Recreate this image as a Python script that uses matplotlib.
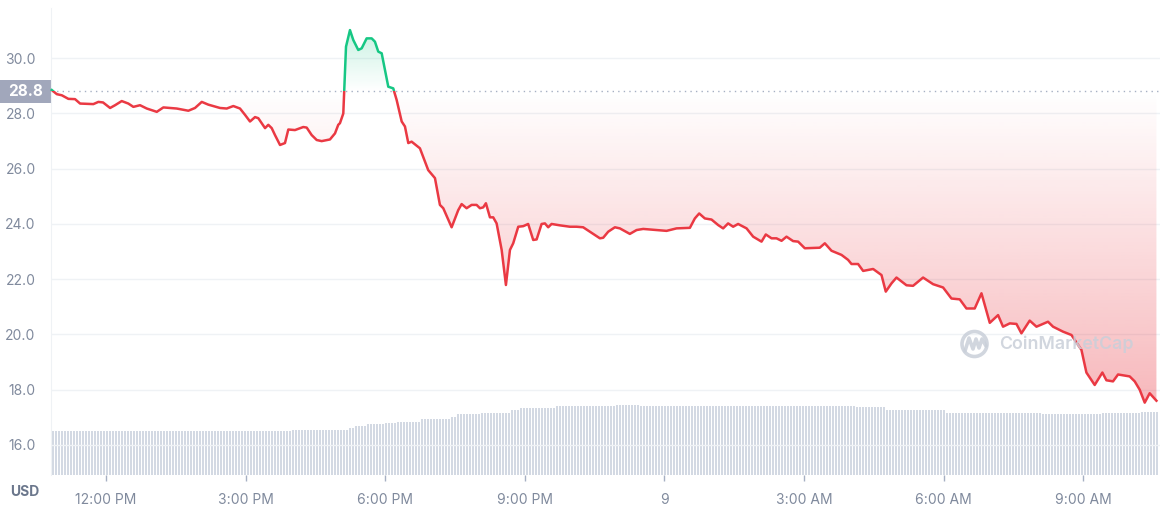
import numpy as np
import matplotlib
matplotlib.use("Agg")
import matplotlib.pyplot as plt
from matplotlib.path import Path
from matplotlib.patches import Rectangle, Circle

# ---------------- data ----------------
# minutes relative to 12:00 PM (day 8)
minutes = [-70.0, -63.5, -57.1, -48.6, -40.0, -33.5, -16.4, -9.9, -3.9, 5.2, 11.6, 20.2, 28.7, 35.2,
           43.8, 52.5, 65.4, 73.9, 82.5, 91.1, 106.1, 114.7, 123.4, 131.9, 138.3, 146.9, 155.6,
           164.1, 172.7, 179.2, 185.6, 192.1, 196.3, 205.0, 209.2, 213.6, 217.8, 224.3, 230.7,
           235.0, 243.6, 254.3, 258.7, 265.1, 271.6, 278.0, 288.7, 295.2, 299.4, 301.6, 305.9,
           309.4, 314.5, 318.8, 325.2, 329.6, 336.0, 342.5, 346.7, 351.0, 355.4, 363.9, 370.3,
           374.7, 381.2, 385.4, 389.7, 394.0, 404.7, 415.4, 424.1, 430.5, 434.8, 445.6, 454.1,
           458.5, 464.9, 471.4, 477.8, 482.1, 486.3, 489.8, 495.0, 499.2, 503.6, 510.1, 515.6,
           520.8, 525.0, 531.5, 537.9, 544.3, 550.8, 555.2, 561.6, 565.9, 570.1, 574.5, 585.2,
           598.1, 606.7, 615.2, 623.9, 636.8, 641.0, 647.5, 656.1, 662.5, 675.4, 684.1, 692.6,
           709.9, 722.7, 735.6, 752.8, 759.2, 764.8, 772.1, 780.7, 789.3, 795.7, 802.1, 808.6,
           815.0, 825.9, 834.4, 845.2, 850.7, 858.1, 864.5, 871.0, 877.4, 885.9, 892.4, 901.0,
           920.3, 926.8, 935.4, 948.3, 956.8, 961.2, 969.7, 976.2, 989.1, 999.9, 1005.4, 1012.8,
           1019.2, 1032.1, 1040.6, 1053.5, 1066.4, 1079.3, 1090.1, 1100.8, 1109.4, 1120.1, 1128.8,
           1139.5, 1150.2, 1156.6, 1165.3, 1173.9, 1180.3, 1191.0, 1199.7, 1214.6, 1221.1, 1234.0,
           1244.8, 1257.7, 1264.1, 1274.8, 1284.7, 1289.9, 1298.4, 1304.9, 1319.9, 1326.4, 1332.8,
           1339.3, 1345.7, 1354.4]
price = [28.85, 28.70, 28.66, 28.53, 28.52, 28.36, 28.34, 28.42, 28.40, 28.20, 28.30, 28.45, 28.36, 28.24,
         28.30, 28.18, 28.06, 28.22, 28.20, 28.18, 28.10, 28.20, 28.42, 28.32, 28.27, 28.20, 28.18,
         28.27, 28.18, 27.95, 27.71, 27.87, 27.83, 27.47, 27.59, 27.47, 27.22, 26.86, 26.93,
         27.42, 27.40, 27.51, 27.49, 27.22, 27.04, 27.00, 27.06, 27.28, 27.59, 27.65, 28.00,
         30.42, 31.02, 30.66, 30.30, 30.36, 30.72, 30.72, 30.60, 30.24, 30.18, 28.97, 28.91,
         28.49, 27.71, 27.53, 26.93, 26.98, 26.74, 25.95, 25.66, 24.69, 24.57, 23.88, 24.50,
         24.72, 24.57, 24.69, 24.69, 24.57, 24.60, 24.75, 24.24, 24.24, 24.02, 23.06, 21.79,
         23.06, 23.30, 23.90, 23.92, 24.00, 23.42, 23.44, 24.00, 24.02, 23.88, 24.00, 23.95,
         23.90, 23.90, 23.88, 23.72, 23.48, 23.50, 23.72, 23.88, 23.84, 23.64, 23.78, 23.82,
         23.78, 23.75, 23.84, 23.86, 24.20, 24.38, 24.20, 24.16, 23.96, 23.84, 24.02, 23.90,
         24.00, 23.84, 23.54, 23.36, 23.62, 23.48, 23.48, 23.39, 23.54, 23.38, 23.36, 23.12,
         23.14, 23.30, 23.03, 22.88, 22.70, 22.55, 22.55, 22.30, 22.37, 22.15, 21.55, 21.85,
         22.06, 21.78, 21.76, 22.06, 21.82, 21.70, 21.30, 21.27, 20.94, 20.94, 21.49,
         20.42, 20.70, 20.28, 20.40, 20.38, 20.04, 20.50, 20.28, 20.46, 20.28, 20.10,
         19.98, 19.44, 18.62, 18.17, 18.62, 18.34, 18.30, 18.55, 18.48, 18.30, 18.00,
         17.53, 17.87, 17.60]
open_price = 28.8

# 24h volume readings (M USD) at times (minutes rel. 12:00 PM)
vol_minutes = [-71, 237, 276, 311, 318, 336, 357, 375, 405, 443, 450, 482, 521, 534, 579, 656,
               688, 959, 966, 1004, 1081, 1204, 1281, 1333]
vol_values = [440, 450, 455, 470, 490, 510, 520, 530, 557, 583, 607, 623, 650, 667, 690, 700,
              690, 693, 677, 650, 623, 607, 623, 630]

tick_minutes = [0, 180, 360, 540, 720, 900, 1080, 1260]
tick_labels = ["12:00 PM", "3:00 PM", "6:00 PM", "9:00 PM", "9", "3:00 AM", "6:00 AM", "9:00 AM"]
y_ticks = [16.0, 18.0, 20.0, 22.0, 24.0, 26.0, 28.0, 30.0]

# ---------------- style ----------------
RED = "#ea3943"
GREEN = "#16c784"
GRID = "#eff2f5"
LABEL = "#808a9d"
WM = "#c9cfd9"
plt.rcParams['font.family'] = ['Inter', 'DejaVu Sans']

t = np.array(minutes)
p = np.array(price)
XMIN, XMAX = -71, 1359
YMIN, YMAX = 14.91, 31.82
MIN_PER_PX = (XMAX - XMIN) / 1109.0

fig = plt.figure(figsize=(11.72, 5.07), dpi=100)
ax = fig.add_axes([51 / 1172, 1 - 475 / 507, (1160 - 51) / 1172, 467 / 507])
ax.set_xlim(XMIN, XMAX)
ax.set_ylim(YMIN, YMAX)

# volume on twin axis
ax2 = ax.twinx()
ax2.set_ylim(0, 4670)
ax2.set_zorder(ax.get_zorder() + 1)
ax2.patch.set_visible(False)
bar_t = np.arange(XMIN + 1.2 * MIN_PER_PX, XMAX - MIN_PER_PX, 3 * MIN_PER_PX)
idx = np.searchsorted(vol_minutes, bar_t, side='right') - 1
bar_v = np.array(vol_values)[np.clip(idx, 0, None)]
ax2.bar(bar_t, bar_v, width=2 * MIN_PER_PX, color="#d3d9e3", linewidth=0, zorder=1,
        antialiased=False, align='edge')
ax2.set_yticks([])
for s in ax2.spines.values():
    s.set_visible(False)

# grid lines
for yv in y_ticks:
    ax.axhline(yv, color=GRID, lw=1, zorder=0)

# gradient fills
poly_r = ax.fill_between(t, p, open_price, where=p <= open_price, interpolate=True,
                         facecolor='none', edgecolor='none')
poly_g = ax.fill_between(t, p, open_price, where=p >= open_price, interpolate=True,
                         facecolor='none', edgecolor='none')

n = 256
gr = np.zeros((n, 1, 4))
gr[..., :3] = matplotlib.colors.to_rgb(RED)
gr[:, 0, 3] = np.linspace(0.44, 0.0, n)
im_r = ax.imshow(gr, extent=[XMIN, XMAX, YMIN, open_price], origin='lower', aspect='auto',
                 zorder=1, interpolation='bilinear')
im_r.set_clip_path(Path.make_compound_path(*poly_r.get_paths()), ax.transData)

gg = np.zeros((n, 1, 4))
gg[..., :3] = matplotlib.colors.to_rgb(GREEN)
gg[:, 0, 3] = np.linspace(0.0, 0.32, n)
im_g = ax.imshow(gg, extent=[XMIN, XMAX, open_price, YMAX], origin='lower', aspect='auto',
                 zorder=1, interpolation='bilinear')
im_g.set_clip_path(Path.make_compound_path(*poly_g.get_paths()), ax.transData)
ax.set_xlim(XMIN, XMAX)
ax.set_ylim(YMIN, YMAX)

# baseline dotted
ax.axhline(open_price, color="#a6b0c3", lw=1, ls=(0, (1, 3)), zorder=2)

# watermark
fig.text(999 / 1172, 1 - 344 / 507, "CoinMarketCap", fontsize=12.8, color=WM,
         alpha=0.85, va='center', ha='left', fontweight='semibold', zorder=3)
circ = Circle((974.5, 507 - 344), 12.5, transform=None, fill=False, lw=2.6, ec=WM,
              alpha=0.85, zorder=3)
fig.patches.append(circ)
mx = np.array([965, 969, 973, 976, 979, 982, 986])
my = 507 - np.array([351, 338, 349, 339, 348, 339, 346])
fig.lines.append(plt.Line2D(mx, my, transform=None, color=WM, lw=2.6, alpha=0.85,
                            solid_joinstyle='round', solid_capstyle='round'))

# price line: red below open, green above
lr, = ax.plot(t, p, color=RED, lw=1.8, zorder=4, solid_joinstyle='round')
lg, = ax.plot(t, p, color=GREEN, lw=1.8, zorder=4, solid_joinstyle='round')
lr.set_clip_path(Rectangle((XMIN - 10, YMIN - 1), XMAX - XMIN + 20, open_price - YMIN + 1,
                           transform=ax.transData))
lg.set_clip_path(Rectangle((XMIN - 10, open_price), XMAX - XMIN + 20, YMAX - open_price + 1,
                           transform=ax.transData))

# axes styling
ax.set_xticks(tick_minutes)
ax.set_xticklabels(tick_labels)
ax.set_yticks(y_ticks)
ax.set_yticklabels([f"{v:.1f}" for v in y_ticks])
ax.tick_params(axis='y', length=0, pad=11, labelsize=10, labelcolor=LABEL)
ax.tick_params(axis='x', length=4, width=1, color="#a6b0c3", pad=9, labelsize=10, labelcolor=LABEL)
for name, s in ax.spines.items():
    s.set_visible(name == 'left')
ax.spines['left'].set_color(GRID)
ax.set_zorder(2)
ax.patch.set_visible(False)

# open price badge
fig.patches.append(Rectangle((0, 1 - 103 / 507), 51 / 1172, 23 / 507, transform=fig.transFigure,
                             facecolor="#a1a7bb", edgecolor='none'))
fig.text(25.5 / 1172, 1 - 91.5 / 507, "28.8", color="white", fontsize=11, fontweight='bold',
         ha='center', va='center')

# USD label
fig.text(25 / 1172, 1 - 492 / 507, "USD", color="#6b778c", fontsize=10, fontweight='bold',
         ha='center', va='center')

fig.savefig("out.png", dpi=100)
